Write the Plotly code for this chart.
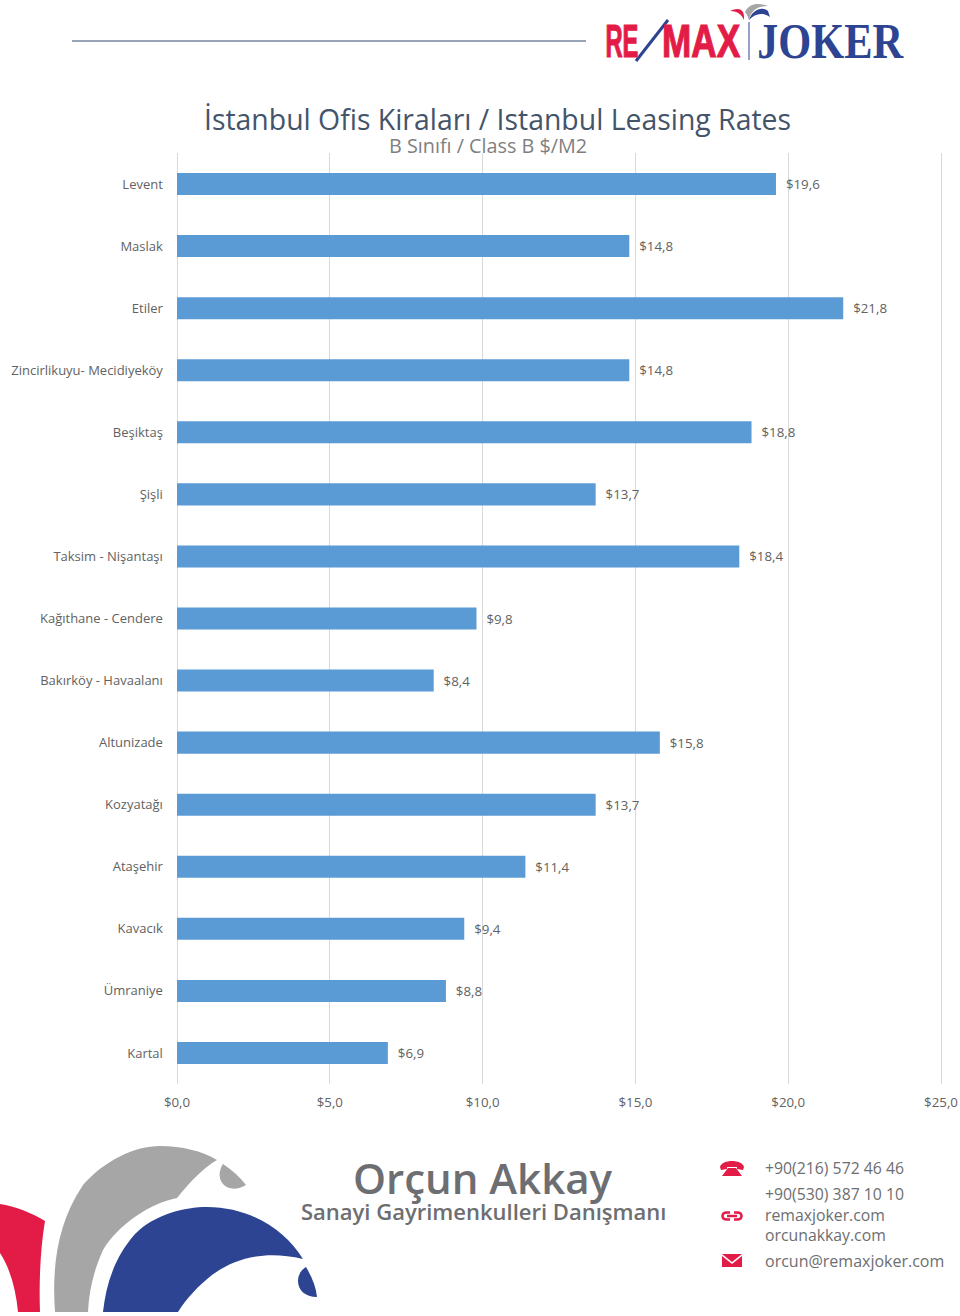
import re
import plotly.graph_objects as go

districts = ["Levent", "Maslak", "Etiler", "Zincirlikuyu- Mecidiyeköy", "Beşiktaş", "Şişli",
             "Taksim - Nişantaşı", "Kağıthane - Cendere", "Bakırköy - Havaalanı", "Altunizade",
             "Kozyatağı", "Ataşehir", "Kavacık", "Ümraniye", "Kartal"]
rents = [19.6, 14.8, 21.8, 14.8, 18.8, 13.7, 18.4, 9.8, 8.4, 15.8, 13.7, 11.4, 9.4, 8.8, 6.9]
x_ticks = [0, 5, 10, 15, 20, 25]
x_tick_labels = ["$0,0", "$5,0", "$10,0", "$15,0", "$20,0", "$25,0"]

W, H = 960, 1316
BLUE, RED, GREY, NAVY = "#5B9BD5", "#E31B47", "#A6A6A6", "#2D4492"
TXT = "#626262"
FONT = "Open Sans, Noto Sans, sans-serif"

def px(x): return x / W
def py(y): return 1 - y / H

def path(s):
    out, is_x = [], True
    for tok in s.split():
        if re.fullmatch(r"[A-Za-z]", tok):
            out.append(tok)
        else:
            v = float(tok)
            out.append(f"{px(v):.5f}" if is_x else f"{py(v):.5f}")
            is_x = not is_x
    return " ".join(out)

def shape(s, color):
    return dict(type="path", xref="paper", yref="paper", path=path(s), fillcolor=color,
                line=dict(width=0), layer="above")

def stroke(s, color, width):
    return dict(type="path", xref="paper", yref="paper", path=path(s), fillcolor="rgba(0,0,0,0)",
                line=dict(color=color, width=width), layer="above")

def note(x, y, text, size, color, anchor="left", weight=None, family=FONT):
    return dict(xref="paper", yref="paper", x=px(x), y=py(y), text=text, showarrow=False,
                xanchor=anchor, yanchor="middle",
                font=dict(size=size, color=color, family=family, weight=weight or 400))

fig = go.Figure(go.Bar(
    y=districts, x=rents, orientation="h", marker=dict(color=BLUE, line=dict(width=0)),
    text=[f"  ${v:.1f}".replace(".", ",") for v in rents], textposition="outside",
    textfont=dict(size=13.3, color=TXT, family=FONT), cliponaxis=False, hoverinfo="skip",
))

shapes = [
    dict(type="line", xref="paper", yref="paper", x0=px(72), x1=px(586), y0=py(41), y1=py(41),
         line=dict(color="#2F4A6D", width=1)),
    # footer arcs
    shape("M 0 1204 C 15 1206 32 1213 45 1221 C 40 1250 39 1285 40 1312 L 18 1312 C 16 1290 10 1268 0 1253 Z", RED),
    shape("M 55 1312 C 52 1270 56 1225 83 1185 C 105 1160 135 1146 160 1146 C 182 1146 202 1151 217 1160 "
          "C 204 1167 190 1182 177 1198 C 150 1203 118 1225 103 1250 C 94 1270 89 1290 88 1312 Z", GREY),
    shape("M 223 1164 C 232 1170 240 1177 246 1185 C 238 1190 228 1190 223 1184 C 218 1178 219 1170 223 1164 Z", GREY),
    shape("M 103 1312 C 106 1285 114 1258 135 1234 C 155 1214 185 1207 207 1207 C 250 1207 285 1230 303 1259 "
          "C 265 1250 235 1258 212 1275 C 198 1286 187 1298 178 1312 Z", NAVY),
    shape("M 306 1267 C 312 1277 316 1287 317 1297 C 305 1297 298 1290 298 1281 C 298 1275 301 1270 306 1267 Z", NAVY),
    # header logo: hat, separator
    shape("M 730 11 C 738 7 745 8 744 20 C 742 15 738 11 730 11 Z", RED),
    shape("M 745 12 C 749 4 757 2 768 6 C 758 6 751 10 749 20 C 748 17 747 14 745 12 Z", GREY),
    shape("M 749 20 C 752 10 762 6 768 11 L 770 17 C 763 12 755 13 749 20 Z", NAVY),
    dict(type="line", xref="paper", yref="paper", x0=px(749), x1=px(749), y0=py(22), y1=py(60),
         line=dict(color=NAVY, width=1)),
    # contact icons
    shape("M 720 1167 C 722 1159 742 1159 744 1167 L 743 1170 L 737 1169 L 737 1167 L 727 1167 L 727 1169 L 721 1170 Z "
          "M 728 1168 L 736 1168 L 742 1176 L 722 1176 Z", RED),
    shape("M 722 1254 L 742 1254 L 732 1262 Z", RED),
    shape("M 722 1256 L 732 1264 L 742 1256 L 742 1267 L 722 1267 Z", RED),
    stroke("M 730 1212.5 L 727 1212.5 C 721 1212.5 721 1219.5 727 1219.5 L 730 1219.5", RED, 2.5),
    stroke("M 734 1212.5 L 737 1212.5 C 743 1212.5 743 1219.5 737 1219.5 L 734 1219.5", RED, 2.5),
    stroke("M 727 1216 L 737 1216", RED, 2.5),
    # RE/MAX slash
    dict(type="line", xref="paper", yref="paper", x0=px(636), x1=px(668), y0=py(61), y1=py(20),
         line=dict(color=NAVY, width=3)),
]

annotations = [
    note(497, 119, "İstanbul Ofis Kiraları / Istanbul Leasing Rates", 28.4, "#44546A", "center"),
    note(488, 146, "B Sınıfı / Class B $/M2", 19.8, "#7F7F7F", "center"),
    note(483, 1177, "Orçun Akkay", 42, "#6D6E71", "center", 600),
    note(483, 1211, "Sanayi Gayrimenkulleri Danışmanı", 22, "#6D6E71", "center", 600),
    note(763, 1168, "+90(216) 572 46 46", 15.8, "#6D6E71", weight=500),
    note(763, 1194, "+90(530) 387 10 10", 15.8, "#6D6E71", weight=500),
    note(763, 1215, "remaxjoker.com", 15.8, "#6D6E71", weight=500),
    note(763, 1235, "orcunakkay.com", 15.8, "#6D6E71", weight=500),
    note(763, 1261, "orcun@remaxjoker.com", 16, "#6D6E71", weight=500),
    note(622, 41, "RE", 46, RED, "center", 700, "Liberation Sans"),
    note(701, 41, "MAX", 46, RED, "center", 700, "Liberation Sans"),
    note(830, 41, "JOKER", 50, NAVY, "center", 700, "Liberation Serif"),
]

fig.update_layout(
    width=W, height=H, margin=dict(l=0, r=0, t=0, b=0, autoexpand=False), autosize=False,
    paper_bgcolor="white", plot_bgcolor="white", showlegend=False,
    separators=",.", bargap=0.645, shapes=shapes, annotations=annotations,
    font=dict(family=FONT, color=TXT, size=13),
    xaxis=dict(domain=[175.47 / W, 942.53 / W], range=[-0.05, 25.05], tickvals=x_ticks, ticktext=x_tick_labels,
               showgrid=True, gridcolor="#D9D9D9", gridwidth=1, zeroline=False, showline=False,
               ticks="outside", ticklen=6, tickcolor="rgba(0,0,0,0)", tickfont=dict(size=13.3, color=TXT)),
    yaxis=dict(domain=[1 - 1084 / H, 1 - 153 / H], autorange="reversed", showgrid=False, zeroline=False,
               showline=False, ticks="outside", ticklen=9, tickcolor="rgba(0,0,0,0)",
               tickfont=dict(size=13, color=TXT)),
)

# stretch the logo words to the narrow widths of the wordmark and thicken the red ones
post = """
document.body.style.margin='0';
var widths={'RE':33,'MAX':78,'JOKER':146};
document.querySelectorAll('.annotation-text').forEach(function(t){
  var k=t.textContent, w=widths[k];
  if(w){
    t.setAttribute('textLength',w);t.setAttribute('lengthAdjust','spacingAndGlyphs');
    if(k!=='JOKER'){t.style.stroke='#E31B47';t.style.strokeWidth='1.2';}
  }
});
"""
fig.write_html("out.html", post_script=post, config=dict(displayModeBar=False))
